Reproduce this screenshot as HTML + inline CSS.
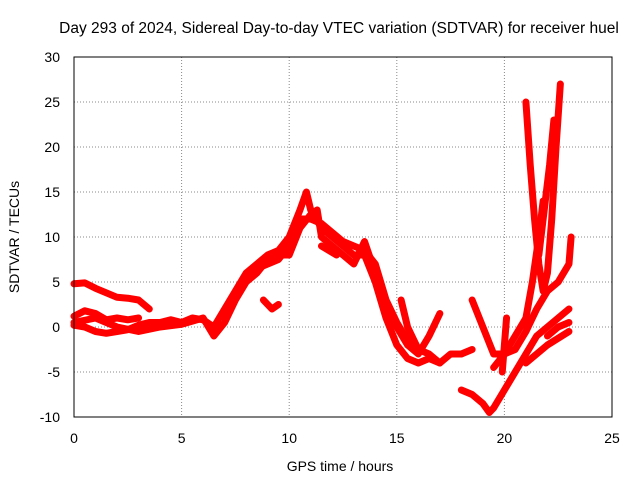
<!DOCTYPE html>
<html><head><meta charset="utf-8"><style>
body{margin:0;background:#fff;}
svg text{font-family:"Liberation Sans",sans-serif;font-size:14px;fill:#000;}
</style></head><body>
<svg id="chart" width="640" height="480">
<text x="339" y="33" text-anchor="middle" style="font-size:15.5px">Day 293 of 2024, Sidereal Day-to-day VTEC variation (SDTVAR) for receiver huel</text>
<g id="grid"></g>
<g id="axes"></g>
<g id="series"></g>
<rect x="74" y="57" width="538" height="360" fill="none" stroke="#000" stroke-width="1"/>
<text x="340" y="471" text-anchor="middle">GPS time / hours</text>
<text x="0" y="0" text-anchor="middle" transform="translate(19,237) rotate(-90)">SDTVAR / TECUs</text>
</svg>
<script>
const xTicks=[0,5,10,15,20,25];
const yTicks=[-10,-5,0,5,10,15,20,25,30];
const traceA=[[0,4.8],[0.5,4.9],[1,4.3],[1.5,3.8],[2,3.3],[2.5,3.2],[3,3.0],[3.5,2.0]];
const traceB=[[0,1.2],[0.5,1.8],[1,1.5],[1.5,0.8],[2,1.0],[2.5,0.8],[3,1.0]];
const traceC=[[0,0.2],[0.5,0],[1,-0.5],[1.5,-0.7],[2,-0.5],[2.5,-0.3],[3,0.2],[3.5,0.5],[4,0.5],[4.5,0.8],[5,0.5],[5.5,1.0],[6,0.8],[6.5,0],[7,2],[7.5,4],[8,6],[8.5,7],[9,8],[9.5,8.5],[10,10],[10.5,13],[10.8,15],[11,13],[11.5,11],[12,10],[12.5,9],[13,8],[13.5,8],[14,5],[14.5,1],[15,-2],[15.5,-3.5],[16,-4],[16.5,-3.5],[17,-4],[17.5,-3],[18,-3],[18.5,-2.5]];
const traceD=[[0,0.5],[1,1],[2,0],[3,-0.5],[4,0],[5,0.3],[6,1],[6.5,-1],[7,0.5],[7.5,3],[8,5],[8.5,6],[9,7.5],[9.5,8],[10,8],[10.5,11],[11,12.5],[11.3,13],[11.5,10],[12,9],[12.5,8],[13,7],[13.5,9.5],[14,6],[14.5,2],[15,0],[15.5,-2],[16,-3],[16.5,-1],[17,1.5]];
const traceP=[[7,1],[7.5,3.5],[8,5.5],[8.5,6.5],[9,7],[9.5,7.5],[10,9],[10.5,12],[11,12],[11.5,11.5],[12,10.5],[12.5,9.5],[13,9],[13.5,8.5],[14,7],[14.5,3],[15,0.5],[15.5,-1.5],[16,-2.5]];
const traceE=[[15.2,3],[15.5,0],[16,-2.5],[16.5,-3],[17,-4]];
const traceF=[[18.5,3],[19,0],[19.5,-3],[20,-3],[20.5,-2.5],[21,-0.5],[21.5,2],[22,4],[22.5,5],[23,7],[23.1,10]];
const traceG=[[18,-7],[18.5,-7.5],[19,-8.5],[19.3,-9.5],[19.5,-9],[20,-7],[20.5,-5],[21,-3],[21.5,-1],[22,0],[22.5,1],[23,2]];
const traceH=[[19.5,-4.5],[20,-3],[20.5,-1],[21,1],[21.3,5],[21.6,10],[21.8,14]];
const traceI=[[21,25],[21.2,18],[21.4,12],[21.6,7],[21.8,4],[22,6],[22.2,12],[22.4,20],[22.6,27]];
const traceJ=[[21.6,8],[21.9,14],[22.1,18],[22.3,23]];
const traceK=[[19.9,-5],[20,-2],[20.1,1]];
const traceL=[[8.8,3],[9.2,2],[9.5,2.5]];
const traceM=[[11.5,9],[12.2,8]];
const traceN=[[21,-4],[22,-2],[23,-0.5]];
const traceO=[[22,-1],[22.5,0],[23,0.5]];
const traces=[traceA,traceB,traceC,traceD,traceP,traceE,traceF,traceG,traceH,traceI,traceJ,traceK,traceL,traceM,traceN,traceO];
const X=v=>74+v*538/25, Y=v=>417-(v+10)*9;
const NS="http://www.w3.org/2000/svg";
const grid=document.getElementById('grid'),axes=document.getElementById('axes'),series=document.getElementById('series');
xTicks.forEach(t=>{
 const l=document.createElementNS(NS,'line');
 l.setAttribute('x1',X(t));l.setAttribute('x2',X(t));l.setAttribute('y1',57);l.setAttribute('y2',417);
 l.setAttribute('stroke','#888');l.setAttribute('stroke-dasharray','1,2');
 
 
 grid.appendChild(l);
 const tx=document.createElementNS(NS,'text');
 tx.setAttribute('x',X(t));tx.setAttribute('y',443);tx.setAttribute('text-anchor','middle');tx.textContent=t;
 
 
 axes.appendChild(tx);
});
yTicks.forEach(t=>{
 const l=document.createElementNS(NS,'line');
 l.setAttribute('x1',74);l.setAttribute('x2',612);l.setAttribute('y1',Y(t));l.setAttribute('y2',Y(t));
 l.setAttribute('stroke','#888');l.setAttribute('stroke-dasharray','1,2');
 
 
 grid.appendChild(l);
 const tx=document.createElementNS(NS,'text');
 tx.setAttribute('x',60);tx.setAttribute('y',Y(t)+5);tx.setAttribute('text-anchor','end');tx.textContent=t;
 
 
 axes.appendChild(tx);
});
traces.forEach(tr=>{
 const p=document.createElementNS(NS,'polyline');
 p.setAttribute('points',tr.map(d=>X(d[0])+','+Y(d[1])).join(' '));
 p.setAttribute('fill','none');p.setAttribute('stroke','#f00');p.setAttribute('stroke-width','7');
 p.setAttribute('stroke-linejoin','round');p.setAttribute('stroke-linecap','round');
 
 
 series.appendChild(p);
});
</script>
</body></html>
